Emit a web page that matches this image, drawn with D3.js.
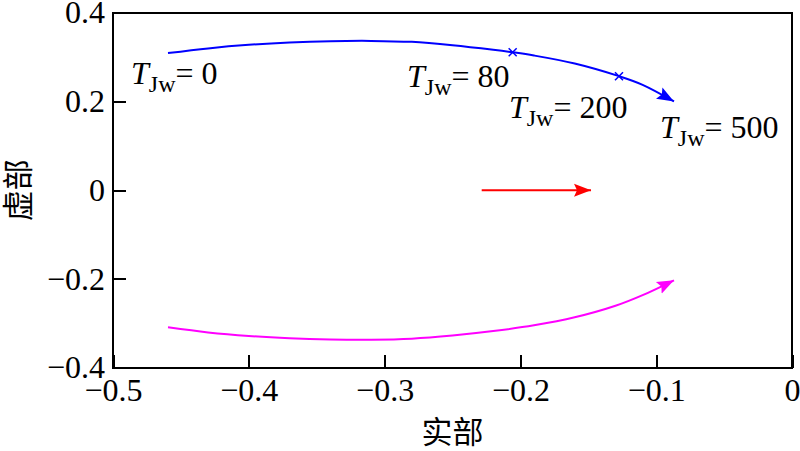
<!DOCTYPE html>
<html lang="zh">
	<head>
		<meta charset="utf-8">
		<title>Eigenvalue trajectory</title>
		<script type="text/javascript" src="https://cdn.jsdelivr.net/npm/d3@7"></script>
		<style>
			body { margin: 0; background: #fff; }
			.axis text {
				font-family: "Liberation Serif", "Times New Roman", serif;
				font-size: 32px;
				fill: #000;
			}
			.axis line { stroke: #000; stroke-width: 2px; shape-rendering: crispEdges; }
			.axis path { display: none; }
			.lbl { font-family: "Liberation Serif", "Times New Roman", serif; font-size: 32px; }
			.cjk { font-family: "Noto Sans CJK SC", sans-serif; font-size: 31px; }
		</style>
	</head>
	<body>
		<script type="text/javascript">

			var w = 800;
			var h = 451;

			// upper branch (blue), real / imaginary parts
			var blueRe = [-0.4595, -0.43, -0.40, -0.37, -0.34, -0.31, -0.28, -0.25, -0.22, -0.2057, -0.19, -0.16, -0.1274, -0.11, -0.0869];
			var blueIm = [0.309, 0.3195, 0.3275, 0.3328, 0.3358, 0.3365, 0.3343, 0.3268, 0.3165, 0.3108, 0.3035, 0.2855, 0.257, 0.2375, 0.2];

			// lower branch (magenta)
			var magRe = [-0.4595, -0.43, -0.40, -0.37, -0.34, -0.31, -0.28, -0.25, -0.22, -0.19, -0.16, -0.13, -0.11, -0.0869];
			var magIm = [-0.309, -0.3205, -0.3285, -0.3335, -0.3362, -0.3368, -0.3345, -0.3275, -0.3175, -0.3045, -0.2865, -0.2605, -0.2365, -0.203];

			// real eigenvalue (red)
			var redRe = [-0.2285, -0.148];
			var redIm = [0, 0];

			// marked points on the blue branch
			var markRe = [-0.2057, -0.1274];
			var markIm = [0.3108, 0.257];

			// T_Jw annotations
			var labelVal = ["0", "80", "200", "500"];
			var labelRe = [-0.4867, -0.2835, -0.2084, -0.0972];
			var labelIm = [0.2393, 0.2336, 0.1628, 0.118];

			var xTicks = [-0.5, -0.4, -0.3, -0.2, -0.1, 0];
			var yTicks = [-0.4, -0.2, 0, 0.2, 0.4];

			var padL = 113, padR = 792, padT = 12.7, padB = 367.7;

			var xScale = d3.scaleLinear().domain([-0.5, 0]).range([padL, padR]);
			var yScale = d3.scaleLinear().domain([-0.4, 0.4]).range([padB, padT]);

			var fmt = function(d) {
				if (d === 0) return "0";
				var s = Math.abs(d).toFixed(1);
				return (d < 0 ? "\u2212" : "") + s;
			};

			var svg = d3.select("body")
				.append("svg")
				.attr("width", w)
				.attr("height", h);

			var defs = svg.append("defs");
			function addMarker(id, color) {
				defs.append("marker")
					.attr("id", id)
					.attr("markerUnits", "userSpaceOnUse")
					.attr("viewBox", "0 -8 18 16")
					.attr("refX", 17)
					.attr("refY", 0)
					.attr("markerWidth", 18)
					.attr("markerHeight", 16)
					.attr("orient", "auto")
					.append("path")
					.attr("d", "M0,-6.5 L17,0 L0,6.5 L3,0 Z")
					.attr("fill", color);
			}
			addMarker("arrBlue", "#0000ff");
			addMarker("arrMag", "#ff00ff");
			addMarker("arrRed", "#ff0000");

			// axes
			svg.append("g")
				.attr("class", "axis")
				.attr("transform", "translate(0," + padB + ")")
				.call(d3.axisBottom(xScale).tickValues(xTicks).tickFormat(fmt).tickSize(-13).tickPadding(11));

			svg.append("g")
				.attr("class", "axis")
				.attr("transform", "translate(" + padL + ",0)")
				.call(d3.axisLeft(yScale).tickValues(yTicks).tickFormat(fmt).tickSize(-13).tickPadding(8));

			// frame
			svg.append("rect")
				.attr("x", padL)
				.attr("y", padT)
				.attr("width", padR - padL)
				.attr("height", padB - padT)
				.attr("fill", "none")
				.attr("stroke", "#000")
				.attr("stroke-width", 2)
				.attr("shape-rendering", "crispEdges");

			var line = d3.line()
				.curve(d3.curveCatmullRom.alpha(0.5))
				.x(function(d) { return xScale(d[0]); })
				.y(function(d) { return yScale(d[1]); });

			function pairs(re, im) {
				return re.map(function(v, i) { return [v, im[i]]; });
			}

			svg.append("path")
				.datum(pairs(blueRe, blueIm))
				.attr("d", line)
				.attr("fill", "none")
				.attr("stroke", "#0000ff")
				.attr("stroke-width", 2)
				.attr("marker-end", "url(#arrBlue)");

			svg.append("path")
				.datum(pairs(magRe, magIm))
				.attr("d", line)
				.attr("fill", "none")
				.attr("stroke", "#ff00ff")
				.attr("stroke-width", 2)
				.attr("marker-end", "url(#arrMag)");

			svg.append("path")
				.datum(pairs(redRe, redIm))
				.attr("d", d3.line().x(function(d) { return xScale(d[0]); }).y(function(d) { return yScale(d[1]); }))
				.attr("fill", "none")
				.attr("stroke", "#ff0000")
				.attr("stroke-width", 2)
				.attr("marker-end", "url(#arrRed)");

			// x marks
			var marks = svg.append("g");
			pairs(markRe, markIm).forEach(function(p) {
				var cx = xScale(p[0]), cy = yScale(p[1]), s = 4;
				marks.append("path")
					.attr("d", "M" + (cx - s) + "," + (cy - s) + "L" + (cx + s) + "," + (cy + s) +
						"M" + (cx - s) + "," + (cy + s) + "L" + (cx + s) + "," + (cy - s))
					.attr("stroke", "#0000ff")
					.attr("stroke-width", 1.5)
					.attr("fill", "none");
			});

			// annotations
			labelVal.forEach(function(v, i) {
				var t = svg.append("text")
					.attr("class", "lbl")
					.attr("x", xScale(labelRe[i]))
					.attr("y", yScale(labelIm[i]));
				t.append("tspan").attr("font-style", "italic").text("T");
				t.append("tspan").attr("font-size", "24px").attr("dy", 8).text("Jw");
				t.append("tspan").attr("dy", -8).text("= " + v);
			});

			// axis titles
			svg.append("text")
				.attr("class", "cjk")
				.attr("x", (padL + padR) / 2)
				.attr("y", 443)
				.attr("text-anchor", "middle")
				.text("实部");

			svg.append("text")
				.attr("class", "cjk")
				.attr("transform", "translate(29," + yScale(0) + ") rotate(-90)")
				.attr("text-anchor", "middle")
				.text("虚部");

		</script>
	</body>
</html>
